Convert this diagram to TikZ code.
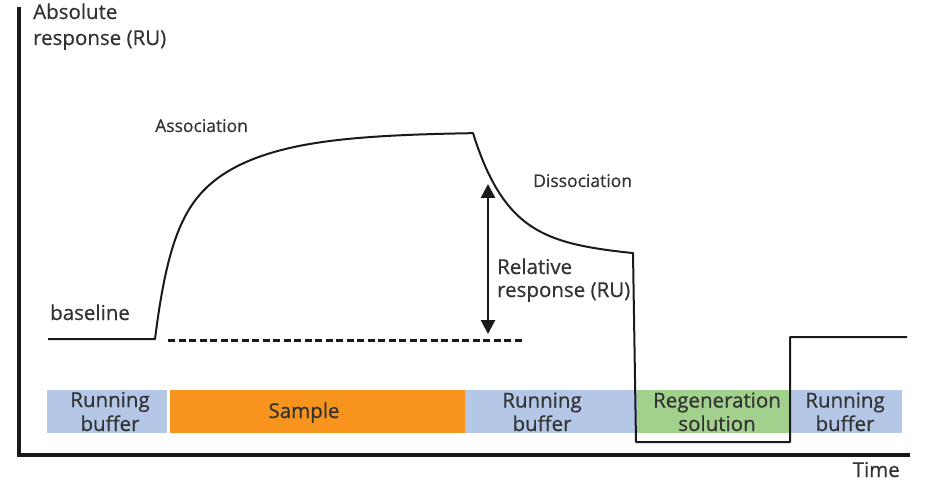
\documentclass[tikz,border=0pt]{standalone}
\usepackage{fontspec}
\setmainfont{Open Sans}[RawFeature={embolden=0.6}]
\usetikzlibrary{arrows.meta}
\definecolor{txt}{HTML}{333333}
\definecolor{ink}{HTML}{1A1A1A}
\definecolor{bufblue}{HTML}{B4C7E7}
\definecolor{samporange}{HTML}{F7941D}
\definecolor{regengreen}{HTML}{A2D18E}
\begin{document}
\begin{tikzpicture}[x=1pt,y=-1pt,
  big/.style={font=\fontsize{20.5}{24}\selectfont, text=txt, inner sep=0pt, anchor=base},
  small/.style={font=\fontsize{17.5}{21}\selectfont, text=txt, inner sep=0pt, anchor=base west},
  band/.style={draw=none, inner sep=0pt, minimum height=43pt, anchor=north west},
  axisline/.style={draw=ink, line width=3.2pt, line join=miter},
  signal/.style={draw=ink, line width=2pt, line join=round},
  refline/.style={draw=ink, line width=3pt, dash pattern=on 7pt off 3.5pt},
  relarrow/.style={draw=ink, line width=2.8pt, {Triangle[length=14pt,width=14pt]}-{Triangle[length=14pt,width=14pt]}},
  ]
\useasboundingbox (0,0) rectangle (928,494);
% bands
\node[band, fill=bufblue, minimum width=120pt] (rb1) at (47,390) {};
\node[band, fill=samporange, minimum width=295pt] (samp) at (170,390) {};
\node[band, fill=bufblue, minimum width=172pt] (rb2) at (465,390) {};
\node[band, fill=regengreen, minimum width=153pt] (regen) at (637,390) {};
\node[band, fill=bufblue, minimum width=112pt] (rb3) at (790,390) {};
% band labels
\node[big] (rb1a) at (110,407) {Running};
\node[big] (rb1b) at (110,431) {buffer};
\node[big] (sampt) at (304,418) {Sample};
\node[big] (rb2a) at (542,407.5) {Running};
\node[big] (rb2b) at (542,431) {buffer};
\node[big] (regena) at (717,407.5) {Regeneration};
\node[big] (regenb) at (717,431) {solution};
\node[big] (rb3a) at (845,407.5) {Running};
\node[big] (rb3b) at (845,431) {buffer};
% axes
\coordinate (ytop) at (19,7);
\coordinate (origin) at (19,455);
\coordinate (xend) at (910,455);
\draw[axisline] (ytop) -- (origin) -- (xend);
% signal
\coordinate (sigstart) at (48,339);
\coordinate (injstart) at (155,339);
\coordinate (regtop) at (636,442);
\coordinate (regend) at (790,442);
\coordinate (rbup) at (790,337);
\coordinate (sigend) at (907,337);
\draw[signal] (sigstart) -- (injstart)
  -- plot[domain=0:318, samples=140] ({155+\x},{339-97.5*(1-exp(-\x/15))-109.5*(1-exp(-\x/70))})
  -- plot[domain=0:160, samples=90] ({473+\x},{133+110*(1-exp(-\x/35))+0.07*\x})
  -- (regtop) -- (regend) -- (rbup) -- (sigend);
% reference line and arrow
\coordinate (dashL) at (168,340);
\coordinate (dashR) at (525,340);
\draw[refline] (dashL) -- (dashR);
\coordinate (arrTop) at (488,184);
\coordinate (arrBot) at (488,334);
\draw[relarrow] (arrTop) -- (arrBot);
% labels
\node[big, anchor=base west] (abs1) at (33,19) {Absolute};
\node[big, anchor=base west] (abs2) at (33,45) {response (RU)};
\node[small] (assoc) at (155,132) {Association};
\node[small] (dissoc) at (533,187) {Dissociation};
\node[big, anchor=base west] (rel1) at (497,274) {Relative};
\node[big, anchor=base west] (rel2) at (497,297) {response (RU)};
\node[big, anchor=base west] (basel) at (50,320) {baseline};
\node[big, anchor=base east] (timel) at (900,477) {Time};
\end{tikzpicture}
\end{document}
